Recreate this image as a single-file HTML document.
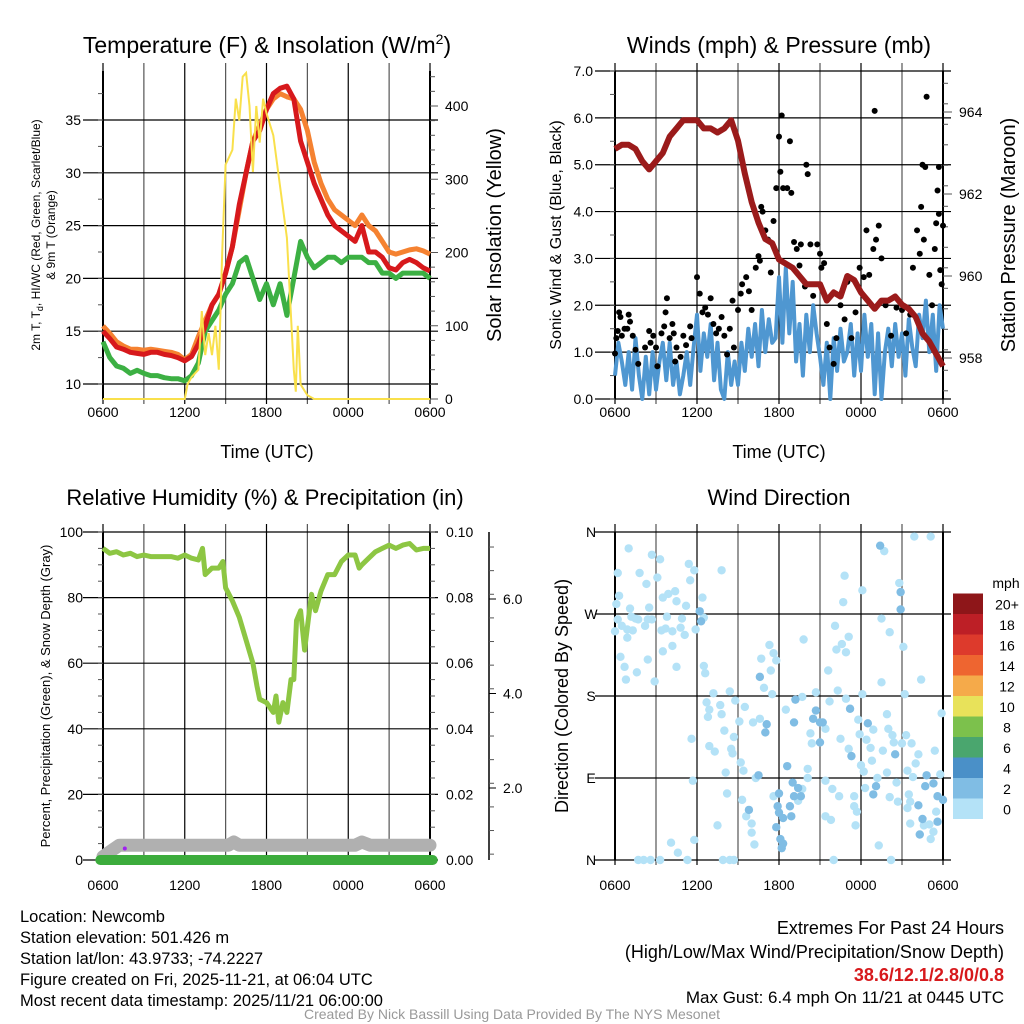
<!DOCTYPE html>
<html><head><meta charset="utf-8"><style>
html,body{margin:0;padding:0;background:#fff;width:1024px;height:1024px;overflow:hidden}
svg{display:block;font-family:"Liberation Sans",sans-serif}
</style></head><body>
<svg id="chart" width="1024" height="1024" viewBox="0 0 1024 1024" xmlns="http://www.w3.org/2000/svg"></svg>
<script>
// ---------- DATA ----------
const xTickLabels = ["0600","1200","1800","0000","0600"];
const tempHours = [0,0.5,1,1.5,2,2.5,3,3.5,4,4.5,5,5.5,6,6.5,7,7.5,8,8.5,9,9.5,10,10.5,11,11.5,12,12.5,13,13.5,14,14.5,15,15.5,16,16.5,17,17.5,18,18.5,19,19.5,20,20.5,21,21.5,22,22.5,23,23.5,24];
const temp2m = [15,14.3,13.5,13.3,13,12.9,12.8,13,13,12.8,12.7,12.5,12.2,12.6,13.8,15.5,17.5,18.5,20.5,23,27,30,33,34,36,37.5,38,38.2,37,33,31,29,27.5,26,25,24.5,24,23.5,25,22.5,22.5,22,21,20.8,21.5,21.8,21.5,21,20.7];
const dewpoint = [14,12.5,11.7,11.5,11,11.3,11,10.8,10.8,10.6,10.5,10.5,10.3,10.8,12,15,16,17,18.5,19.5,21.5,22,20,18,19.5,17.5,19.5,16.5,20,23.5,22,21,21.5,22,22,21.5,22,22,22,21.5,21.5,20.5,20.5,20,20.5,20.5,20.5,20.5,20];
const temp9m = [15.5,14.8,14,13.6,13.3,13.3,13.2,13.3,13.2,13.1,13,12.8,12.3,12.8,14.5,16,17.5,18.5,20.5,23,26.5,30,33,34.5,36,37,37.5,37.2,37,36,34,31,29,27.5,26.5,26,25.5,25,26,25,24.5,23.5,22.5,22.3,22.5,22.7,22.8,22.6,22.3];
const solarHours = [0,6,6.2,6.5,7,7.25,7.5,7.75,8,8.25,8.5,8.75,9,9.25,9.5,9.75,10,10.25,10.5,10.75,11,11.25,11.5,11.75,12,12.5,13,13.5,14,14.15,14.3,14.5,15,15.5,24];
const solar = [0,0,20,30,40,120,60,90,60,100,40,200,320,330,340,410,380,440,445,400,310,400,350,410,390,360,290,220,40,10,100,20,5,0,0];
const tempTicks = [10,15,20,25,30,35];
const solarTicks = [0,100,200,300,400];

const pressHours = tempHours;
const pressure = [963.1,963.2,963.2,963.1,962.8,962.6,962.8,963.0,963.4,963.6,963.8,963.8,963.8,963.6,963.6,963.5,963.6,963.8,963.3,962.5,961.8,961.3,960.9,960.8,960.4,960.3,960.2,960.0,959.8,959.8,959.8,959.4,959.6,959.5,960.0,959.9,959.6,959.4,959.2,959.4,959.4,959.5,959.3,959.2,959.0,958.6,958.4,958.1,957.8];
const windStep = 0.25;
const sonicWind = [0.5,1.2,0.8,0.3,1.0,0.2,1.3,0.5,0,0.9,0.1,1.0,0.2,0.8,1.2,0.4,1.2,0.3,0.8,0.1,0.5,1.0,0.3,1.1,1.8,0.6,1.4,0.9,1.6,0.4,1.2,0.2,0.0,1.0,0.3,0.8,0.3,1.2,0.6,1.5,0.9,1.6,0.7,1.9,1.0,1.7,1.2,1.3,2.6,1.2,2.8,1.4,2.5,0.8,1.6,0.5,1.8,1.0,2.0,1.4,0.9,0.3,1.2,0.0,1.3,0.6,1.5,0.8,1.0,1.6,0.5,1.4,0.6,1.8,0.9,1.6,0.1,1.4,0.0,1.0,1.5,0.7,1.6,0.9,1.4,0.5,1.7,1.1,0.7,1.8,1.3,2.1,1.0,1.8,0.6,2.0,1.5];
const gustHours = [0,0.1,0.2,0.3,0.4,0.5,0.7,0.9,1.0,1.1,1.3,1.5,1.7,2.2,2.5,2.6,2.8,3.0,3.1,3.4,3.6,3.8,3.7,4.0,4.2,4.3,4.5,4.4,4.8,5.0,5.2,5.5,5.6,6.0,6.2,6.4,6.6,6.8,7.0,7.2,7.4,7.6,7.8,8.0,8.2,8.4,8.6,8.7,9.0,9.2,9.3,9.6,9.8,10.0,10.3,10.5,10.6,10.7,10.8,11.0,11.2,11.4,11.6,11.8,12.0,12.1,12.2,12.3,12.6,12.8,12.9,13.1,13.3,13.5,13.6,13.9,14.0,14.1,14.3,14.5,14.8,15.0,15.1,15.3,15.5,15.7,16.0,16.2,16.5,16.8,17.0,17.3,17.6,17.9,18.2,18.4,18.6,18.9,19.0,19.1,19.3,19.5,19.8,20.2,20.6,21.0,21.3,21.6,21.8,22.1,22.3,22.5,22.6,22.8,23.0,23.2,23.4,23.6,23.7,23.8,24.0,23.9,23.7,22.7,22.4,23.5];
const gust = [0.97,1.3,1.45,1.85,1.75,1.35,1.5,1.5,1.8,1.65,1.35,1.05,0.75,1.1,1.45,1.2,1.35,1.1,0.7,1.4,1.55,2.15,1.85,1.3,1.6,1.4,1.1,0.8,0.9,1.35,1.15,1.55,1.3,2.6,2.25,1.85,1.95,1.8,2.15,1.6,1.4,1.5,1.75,1.35,0.95,1.5,2.1,1.1,1.9,2.25,2.45,2.6,2.3,1.9,2.8,3.05,2.95,4.1,4.0,3.6,3.4,2.7,3.8,4.5,5.6,4.85,6.05,4.5,4.5,5.5,4.4,3.35,3.2,2.85,3.3,2.4,5.0,4.8,3.3,2.2,3.3,3.1,2.8,2.9,1.6,1.1,0.75,1.3,2.0,1.7,2.5,1.3,1.85,2.8,2.6,3.6,2.65,3.2,6.15,3.4,3.7,3.0,2.0,1.35,1.95,1.9,1.4,1.8,2.8,3.6,3.1,5.0,3.4,6.45,2.65,2.0,3.2,4.45,3.95,2.75,3.7,2.45,4.95,4.95,4.1,3.75];
const windTicks = [0,1,2,3,4,5,6,7];
const pressTicks = [958,960,962,964];

const rhHours = [0,0.5,1,1.5,2,2.5,3,3.5,4,4.5,5,5.5,6,6.5,7,7.3,7.5,8,8.5,8.8,9,9.5,10,10.5,11,11.3,11.5,12,12.5,12.7,12.9,13.2,13.5,13.8,14,14.2,14.5,14.8,15,15.3,15.6,16,16.5,17,17.5,18,18.5,18.8,19,19.5,20,20.5,21,21.5,22,22.5,23,23.5,24];
const rh = [95,93.5,94,93,93.5,92.5,93,92.5,92.5,92.5,92.5,92,93,92,91.5,95,87,89,89,91,83,79,74,67,60,53,49,48,45,50,42,48,45,55,55,73,76,64,71,81,76,82,87,87,91,93,93,89,90,92,94,95,96,95,96,96.5,94.5,95,95];
const snowHours = [0,0.5,1.2,6,9.2,9.6,10,18.5,19,19.6,24];
const snowPct = [1,2.5,4.5,4.5,4.5,5.5,4.5,4.5,5.5,4.5,4.5];
const precipHours = [-0.2,24.2];
const precip = [0,0];
const rhTicks = [0,20,40,60,80,100];
const precipTicks = ["0.00","0.02","0.04","0.06","0.08","0.10"];
const snowTicks = ["2.0","4.0","6.0"];

const dirLabels = ["N","E","S","W","N"];
const dirHours = [1.0,0.2,0.3,0.1,0.2,0.0,0.5,0.9,0.9,1.1,1.2,1.5,1.7,1.3,1.8,2.3,2.5,2.2,2.7,3.1,3.3,2.4,2.7,3.5,3.9,4.4,4.5,3.8,3.4,3.7,4.2,4.8,4.9,5.2,5.1,5.4,5.5,5.8,6.4,6.5,5.9,0.4,0.7,0.8,1.6,2.4,2.9,3.5,4.2,4.5,7.8,6.5,6.6,7.2,6.7,6.9,6.8,7.7,7.8,8.4,8.8,9.5,9.1,8.7,8.0,6.9,7.3,8.5,8.6,5.6,9.2,9.4,8.1,5.7,8.2,10.1,10.6,10.7,11.3,11.6,11.8,11.4,10.9,11.5,12.5,13.7,13.8,10.3,9.3,9.6,10.0,10.0,10.2,7.5,5.8,4.1,4.6,5.3,3.3,2.6,2.1,1.7,7.9,8.4,8.7,11.6,13.4,13.7,14.1,14.1,14.3,14.4,14.7,15.4,15.7,16.5,16.3,16.9,17.8,17.9,17.1,18.0,18.2,18.4,18.7,18.9,18.8,19.2,18.3,17.5,17.5,17.7,17.6,15.4,15.8,15.9,16.4,15.4,16.0,19.3,20.2,20.1,20.7,20.6,19.6,19.9,20.0,20.3,20.4,21.0,21.3,21.2,21.7,21.4,21.8,21.5,21.6,21.4,21.6,22.6,23.0,23.3,23.1,23.4,23.5,23.8,23.9,22.0,22.2,22.4,19.9,19.5,19.5,20.1,21.1,18.1,18.1,16.7,16.8,16.1,16.2,16.6,16.9,17.1,15.6,19.7,20.8,21.9,23.1,
6.2,6.3,10.6,11.1,11.0,13.1,13.2,15.0,14.7,14.5,15.2,15.0,12.6,12.0,11.9,12.0,12.3,12.9,12.8,13.1,13.4,13.6,13.0,11.8,12.1,12.3,12.2,10.5,9.8,17.2,17.3,18.5,19.1,18.9,20.5,19.4,20.9,20.9,22.2,22.5,22.3,22.8,22.7,23.3,23.6,23.6,24.0];
const dirDeg = [342,315,290,281,264,251,257,253,244,276,267,265,264,252,315,303,277,257,335,310,330,264,264,288,292,295,284,267,252,254,251,255,265,279,247,325,307,318,288,266,253,223,212,198,206,220,196,229,235,212,318,213,205,183,173,165,157,170,160,185,175,168,152,135,142,125,119,122,117,133,107,98,96,87,73,151,155,221,236,227,219,208,189,182,165,179,242,90,66,48,40,30,17,38,22,19,8,0,0,0,0,0,0,0,0,70,65,78,90,100,139,128,184,144,174,133,186,177,154,138,122,104,97,132,123,143,109,90,79,70,59,53,38,48,44,78,70,87,0,16,0,69,64,85,120,96,144,137,129,128,137,182,128,98,91,72,64,57,40,38,39,31,23,120,53,94,161,106,116,198,160,195,265,250,234,182,296,283,312,257,231,237,228,245,208,339,304,355,355,
273,262,201,149,140,151,176,151,164,155,151,129,103,73,59,52,46,48,59,70,79,70,85,36,23,18,13,93,55,166,114,150,81,72,116,345,294,275,60,45,28,93,81,84,42,70,66];
const dirSpeed = [];
for (let i = 0; i < dirHours.length; i++) dirSpeed.push(i < 189 ? 1 : 3);
const speedLabels = ["0","2","4","6","8","10","12","14","16","18","20+"];
const speedColors = ["#b4e2f7","#80bde4","#4a90c8","#4aa66e","#7cc14c","#e8e25a","#f5aa4a","#ee6530","#dd3a2c","#bd1f26","#8e1619"];

// ---------- HELPERS ----------
const svg = document.getElementById('chart');
const NS = 'http://www.w3.org/2000/svg';
function mk(tag, attrs, name, parent) {
  const el = document.createElementNS(NS, tag);
  for (const k in attrs) el.setAttribute(k, attrs[k]);
  
  
  (parent || svg).appendChild(el);
  return el;
}
function txt(x, y, s, size, name, anchor, extra) {
  const a = Object.assign({x: x, y: y, 'font-size': size, 'text-anchor': anchor || 'middle', fill: '#000'}, extra || {});
  const t = mk('text', a, name);
  t.textContent = s;
  return t;
}
function scale(d0, d1, r0, r1) { return v => r0 + (v - d0) * (r1 - r0) / (d1 - d0); }
function pathFrom(xs, ys, fx, fy) {
  let d = '';
  for (let i = 0; i < xs.length; i++) d += (i ? 'L' : 'M') + fx(xs[i]).toFixed(1) + ' ' + fy(ys[i]).toFixed(1);
  return d;
}
function frame(x0, x1, y0, y1, prefix, xlab) {
  const fx = scale(0, 24, x0, x1);
  for (let h = 0; h <= 24; h += 3) {
    mk('line', {x1: fx(h), y1: y0 - 8, x2: fx(h), y2: y1 + 5, stroke: (h % 6 === 0) ? '#000' : '#555', 'stroke-width': 1.2}, prefix + '-x-grid');
  }
  for (let i = 0; i < 5; i++) txt(fx(i * 6), xlab, xTickLabels[i], 14, prefix + '-x-tick-label');
  mk('line', {x1: x0, y1: y0, x2: x0, y2: y1, stroke: '#000', 'stroke-width': 2}, prefix + '-left-border');
  mk('line', {x1: x1, y1: y0, x2: x1, y2: y1, stroke: '#000', 'stroke-width': 2}, prefix + '-right-border');
  return fx;
}
function hgrid(x0, x1, y, prefix) {
  mk('line', {x1: x0 - 20, y1: y, x2: x1 + 8, y2: y, stroke: '#000', 'stroke-width': 1.2}, prefix + '-y-grid');
}

// ---------- PANEL 1: TEMPERATURE ----------
(function () {
  const x0 = 103, x1 = 430, y0 = 71, y1 = 399;
  const fy = scale(10, 35, 384, 120);
  const fs = scale(0, 400, 399, 106);
  const fx = frame(x0, x1, y0, y1, 'temp', 417);
  tempTicks.forEach(v => { hgrid(x0, x1, fy(v), 'temp'); txt(x0 - 22, fy(v) + 5, String(v), 14, 'temp-y-tick-label', 'end'); });
  for (let v = 10; v <= 39; v += 2.5) mk('line', {x1: x0 - 5, y1: fy(v), x2: x0, y2: fy(v), stroke: '#555'}, 'temp-minor-tick');
  mk('line', {x1: x0, y1: y1, x2: x1, y2: y1, stroke: '#000', 'stroke-width': 1.2}, 'temp-bottom-border');
  for (let v = 0; v <= 440; v += 20) mk('line', {x1: x1, y1: fs(v), x2: x1 + (v % 100 === 0 ? 8 : 5), y2: fs(v), stroke: '#555'}, 'solar-tick');
  solarTicks.forEach(v => txt(x1 + 15, fs(v) + 5, String(v), 14, 'solar-tick-label', 'start'));
  mk('path', {d: pathFrom(tempHours, temp9m, fx, fy), fill: 'none', stroke: '#f58231', 'stroke-width': 5, 'stroke-linejoin': 'round'}, 'temp-9m-line');
  mk('path', {d: pathFrom(tempHours, dewpoint, fx, fy), fill: 'none', stroke: '#3cb043', 'stroke-width': 5, 'stroke-linejoin': 'round'}, 'dewpoint-line');
  mk('path', {d: pathFrom(tempHours, temp2m, fx, fy), fill: 'none', stroke: '#d7191c', 'stroke-width': 5, 'stroke-linejoin': 'round'}, 'temp-2m-line');
  mk('path', {d: pathFrom(solarHours, solar, fx, fs), fill: 'none', stroke: '#f9e04b', 'stroke-width': 2}, 'solar-line');
  const t = txt(267, 53, '', 23, 'temp-title');
  t.innerHTML = 'Temperature (F) &amp; Insolation (W/m<tspan dy="-9" font-size="14">2</tspan><tspan dy="9">)</tspan>';
  txt(267, 458, 'Time (UTC)', 18, 'temp-x-axis-title');
  const a = txt(0, 0, '', 12, 'temp-y-axis-title', 'middle', {transform: 'translate(40,235) rotate(-90)'});
  a.innerHTML = '2m T, T<tspan dy="3" font-size="9">d</tspan><tspan dy="-3">, HI/WC (Red, Green, Scarlet/Blue)</tspan>';
  txt(0, 0, '& 9m T (Orange)', 12, 'temp-y-axis-title-line2', 'middle', {transform: 'translate(55,235) rotate(-90)'});
  txt(0, 0, 'Solar Insolation (Yellow)', 20, 'solar-axis-title', 'middle', {transform: 'translate(501,235) rotate(-90)'});
})();

// ---------- PANEL 2: WINDS ----------
(function () {
  const x0 = 615, x1 = 943, y0 = 71, y1 = 399;
  const fy = scale(0, 7, 399, 71);
  const fp = scale(958, 964, 358, 112);
  const fx = frame(x0, x1, y0, y1, 'wind', 417);
  windTicks.forEach(v => { hgrid(x0, x1, fy(v), 'wind'); txt(x0 - 22, fy(v) + 5, v.toFixed(1), 14, 'wind-y-tick-label', 'end'); });
  for (let v = 0; v <= 7; v += 0.5) mk('line', {x1: x0 - 5, y1: fy(v), x2: x0, y2: fy(v), stroke: '#555'}, 'wind-minor-tick');
  for (let v = 957.2; v <= 965; v += 0.5) mk('line', {x1: x1, y1: fp(v), x2: x1 + 5, y2: fp(v), stroke: '#555'}, 'pressure-minor-tick');
  pressTicks.forEach(v => { mk('line', {x1: x1, y1: fp(v), x2: x1 + 9, y2: fp(v), stroke: '#555'}, 'pressure-tick'); txt(x1 + 16, fp(v) + 5, String(v), 14, 'pressure-tick-label', 'start'); });
  const wh = sonicWind.map((v, i) => i * windStep);
  mk('path', {d: pathFrom(wh, sonicWind, fx, fy), fill: 'none', stroke: '#4f97d1', 'stroke-width': 4, 'stroke-linejoin': 'round'}, 'sonic-wind-line');
  gust.forEach((g, i) => {
    mk('circle', {cx: fx(gustHours[i]), cy: fy(g), r: 3, fill: '#000'}, 'gust-point');
  });
  mk('path', {d: pathFrom(pressHours, pressure, fx, fp), fill: 'none', stroke: '#9b1b1b', 'stroke-width': 6, 'stroke-linejoin': 'round'}, 'pressure-line');
  txt(779, 53, 'Winds (mph) & Pressure (mb)', 23, 'wind-title');
  txt(779, 458, 'Time (UTC)', 18, 'wind-x-axis-title');
  txt(0, 0, 'Sonic Wind & Gust (Blue, Black)', 16, 'wind-y-axis-title', 'middle', {transform: 'translate(561,235) rotate(-90)'});
  txt(0, 0, 'Station Pressure (Maroon)', 20, 'pressure-axis-title', 'middle', {transform: 'translate(1015,235) rotate(-90)'});
})();

// ---------- PANEL 3: RH ----------
(function () {
  const x0 = 103, x1 = 430, y0 = 532, y1 = 860;
  const fy = scale(0, 100, 860, 532);
  const fx = frame(x0, x1, y0, y1, 'rh', 890);
  rhTicks.forEach((v, i) => {
    hgrid(x0, x1, fy(v), 'rh');
    txt(x0 - 20, fy(v) + 5, String(v), 14, 'rh-y-tick-label', 'end');
    txt(x1 + 16, fy(v) + 5, precipTicks[i], 14, 'precip-tick-label', 'start');
  });
  for (let v = 0; v <= 100; v += 5) {
    mk('line', {x1: x0 - 5, y1: fy(v), x2: x0, y2: fy(v), stroke: '#555'}, 'rh-minor-tick');
    mk('line', {x1: x1, y1: fy(v), x2: x1 + 5, y2: fy(v), stroke: '#555'}, 'precip-minor-tick');
  }
  mk('line', {x1: 489, y1: 532, x2: 489, y2: 860, stroke: '#000', 'stroke-width': 1.5}, 'snow-axis-line');
  const fsn = scale(2, 6, 788, 599);
  for (let v = 0.6; v <= 7.1; v += 0.5) mk('line', {x1: 489, y1: fsn(v), x2: 494, y2: fsn(v), stroke: '#555'}, 'snow-minor-tick');
  snowTicks.forEach(s => { mk('line', {x1: 489, y1: fsn(+s), x2: 496, y2: fsn(+s), stroke: '#000'}, 'snow-tick'); txt(503, fsn(+s) + 5, s, 14, 'snow-tick-label', 'start'); });
  mk('path', {d: pathFrom(snowHours, snowPct, fx, fy), fill: 'none', stroke: '#b0b0b0', 'stroke-width': 13, 'stroke-linecap': 'round', 'stroke-linejoin': 'round'}, 'snow-depth-line');
  mk('path', {d: pathFrom(precipHours, precip, fx, fy), fill: 'none', stroke: '#3cac3c', 'stroke-width': 10, 'stroke-linecap': 'round'}, 'precip-line');
  mk('circle', {cx: fx(1.6), cy: fy(3.5), r: 2, fill: '#a020f0'}, 'precip-marker');
  mk('path', {d: pathFrom(rhHours, rh, fx, fy), fill: 'none', stroke: '#8dc643', 'stroke-width': 5, 'stroke-linejoin': 'round'}, 'rh-line');
  txt(265, 505, 'Relative Humidity (%) & Precipitation (in)', 22, 'rh-title');
  txt(0, 0, 'Percent, Precipitation (Green), & Snow Depth (Gray)', 13, 'rh-y-axis-title', 'middle', {transform: 'translate(50,696) rotate(-90)'});
})();

// ---------- PANEL 4: WIND DIRECTION ----------
(function () {
  const x0 = 615, x1 = 943, y0 = 532, y1 = 860;
  const fy = scale(0, 360, 860, 532);
  const fx = frame(x0, x1, y0, y1, 'dir', 890);
  dirLabels.forEach((s, i) => { hgrid(x0, x1, fy(i * 90), 'dir'); txt(x0 - 24, fy(i * 90) + 5, s, 14, 'dir-y-tick-label', 'middle'); });
  const bins = [2, 4, 6, 8, 10, 12, 14, 16, 18, 20, 999];
  dirHours.forEach((h, i) => {
    let k = 0; while (dirSpeed[i] >= bins[k]) k++;
    mk('circle', {cx: fx(h), cy: fy(dirDeg[i]), r: 4.2, fill: speedColors[k]}, 'wind-direction-point');
  });
  txt(779, 505, 'Wind Direction', 22, 'dir-title');
  txt(0, 0, 'Direction (Colored By Speed)', 18, 'dir-y-axis-title', 'middle', {transform: 'translate(568,696) rotate(-90)'});
  txt(1006, 588, 'mph', 14, 'legend-title', 'middle');
  speedLabels.forEach((s, i) => {
    const yy = 798.5 - i * 20.5;
    mk('rect', {x: 953, y: yy, width: 30, height: 20.5, fill: speedColors[i]}, 'legend-swatch');
    txt(1007, yy + 16, s, 14, 'legend-label', 'middle');
  });
})();

// ---------- FOOTER TEXT ----------
['Location: Newcomb', 'Station elevation: 501.426 m', 'Station lat/lon: 43.9733; -74.2227', 'Figure created on Fri, 2025-11-21, at 06:04 UTC', 'Most recent data timestamp: 2025/11/21 06:00:00'].forEach((s, i) => {
  txt(20, 922 + i * 21, s, 16.5, 'station-info-line', 'start');
});
txt(1004, 934, 'Extremes For Past 24 Hours', 18, 'extremes-title', 'end');
txt(1004, 958, '(High/Low/Max Wind/Precipitation/Snow Depth)', 18, 'extremes-subtitle', 'end');
txt(1004, 981, '38.6/12.1/2.8/0/0.8', 18, 'extremes-values', 'end', {fill: '#d7191c', 'font-weight': 'bold'});
txt(1004, 1003, 'Max Gust: 6.4 mph On 11/21 at 0445 UTC', 17, 'max-gust', 'end');
txt(512, 1019, 'Created By Nick Bassill Using Data Provided By The NYS Mesonet', 14, 'credit-footer', 'middle', {fill: '#999'});
</script>
</body></html>
